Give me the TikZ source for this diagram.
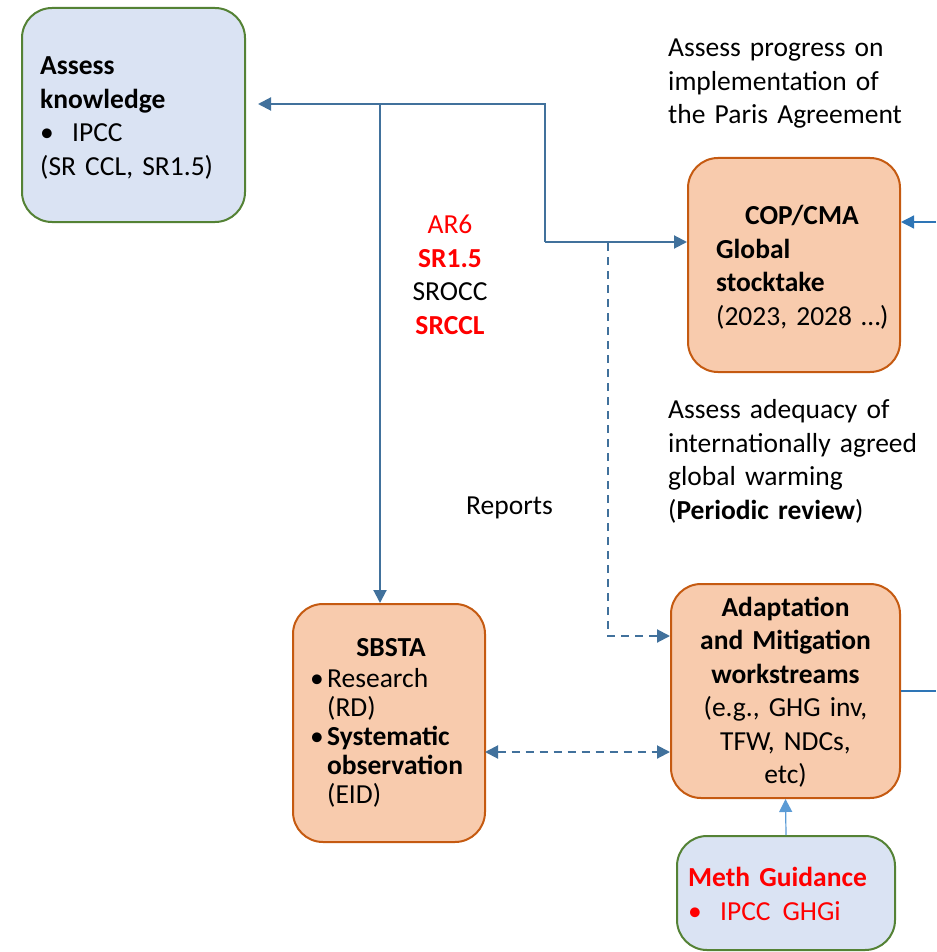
\documentclass[tikz,border=0pt]{standalone}
\usepackage{fontspec}
\setmainfont{Carlito}
\usetikzlibrary{arrows.meta}
\definecolor{flowblue}{RGB}{65,113,156}
\definecolor{lightflow}{RGB}{91,155,213}
\definecolor{sideflow}{RGB}{46,117,182}
\definecolor{boxgreen}{RGB}{84,130,53}
\definecolor{boxblue}{RGB}{218,227,243}
\definecolor{boxorange}{RGB}{197,90,17}
\definecolor{boxpeach}{RGB}{248,203,173}
\definecolor{labelred}{RGB}{255,0,0}

\begin{document}
\begin{tikzpicture}[x=1pt, y=-1pt, >={Triangle[length=13pt,width=13pt]},
    knowbox/.style={draw=boxgreen, fill=boxblue, line width=2pt, rounded corners=30pt},
    procbox/.style={draw=boxorange, fill=boxpeach, line width=2pt, rounded corners=30pt},
    txt/.style={inner sep=0pt, font=\fontsize{27.5}{33.5}\selectfont, text width=270pt, align=left, anchor=base west},
    ctxt/.style={inner sep=0pt, font=\fontsize{27.5}{33.5}\selectfont, text width=240pt, align=center, anchor=base},
    flow/.style={draw=flowblue, line width=2pt},
    dflow/.style={flow, dash pattern=on 8pt off 6pt}]
    \useasboundingbox (0,0) rectangle (936,952);
    % boxes
    \node [knowbox, minimum width=223pt, minimum height=214pt] (know) at (133.5, 115) {};
    \node [procbox, minimum width=212pt, minimum height=214pt] (cop) at (794, 265) {};
    \node [procbox, minimum width=192pt, minimum height=238pt] (sbsta) at (389, 723) {};
    \node [procbox, minimum width=229pt, minimum height=214pt] (work) at (785.5, 691) {};
    \node [knowbox, minimum width=218pt, minimum height=114pt] (meth) at (786, 893) {};
    % box texts
    \node [txt] (knowtxt) at (40, 75) {\textbf{Assess}\\\textbf{knowledge}\\\makebox[32pt][l]{•}IPCC\\(SR CCL, SR1.5)};
    \node [txt] (coptxt) at (716, 224.5) {\textbf{\hspace*{29pt}COP/CMA}\\\textbf{Global}\\\textbf{stocktake}\\(2023, 2028 …)};
    \node [ctxt] (sbstahead) at (391, 656.5) {\textbf{SBSTA}};
    \node [txt, font=\fontsize{27.5}{29}\selectfont] (sbstatxt) at (310, 687) {\makebox[17pt][l]{•}Research\\\hspace*{17pt}(RD)\\\makebox[17pt][l]{•}\textbf{Systematic}\\\hspace*{17pt}\textbf{observation}\\\hspace*{17pt}(EID)};
    \node [ctxt] (worktxt) at (785.5, 616) {\textbf{Adaptation}\\\textbf{and Mitigation}\\\textbf{workstreams}\\(e.g., GHG inv,\\TFW, NDCs,\\etc)};
    \node [txt, text=labelred] (methtxt) at (688, 886.5) {\textbf{Meth Guidance}\\\makebox[32pt][l]{•}IPCC\hspace{12pt}GHGi};
    % free texts
    \node [txt] (progress) at (668, 57) {Assess progress on\\implementation of\\the Paris Agreement};
    \node [ctxt] (reports) at (450, 233.5) {\textcolor{labelred}{AR6}\\\textcolor{labelred}{\textbf{SR1.5}}\\SROCC\\\textcolor{labelred}{\textbf{SRCCL}}};
    \node [txt] (adequacy) at (668, 418.5) {Assess adequacy of\\internationally agreed\\global warming\\(\textbf{Periodic review})};
    \node [ctxt] (replabel) at (509.5, 514) {Reports};
    % connectors
    \coordinate (hub) at (545, 104);
    \coordinate (knee) at (545, 242);
    \coordinate (tap) at (380, 104);
    \coordinate (knowin) at (258, 104);
    \draw [flow, ->] (knee) -- (hub) -- (knowin);
    \draw [flow, ->] (knee) -- (knee -| cop.west);
    \draw [flow, ->] (tap) -- (tap |- sbsta.north);
    % dashed links
    \coordinate (dtop) at (608, 243);
    \coordinate (dbend) at (608, 636);
    \draw [dflow, ->] (dtop) -- (dbend) -- (dbend -| work.west);
    \coordinate (obs) at (485, 752);
    \draw [dflow, <->] (obs) -- (obs -| work.west);
    % side links
    \coordinate (fromright) at (936, 222);
    \coordinate (toright) at (936, 691);
    \draw [draw=sideflow, line width=1.3pt, ->] (fromright) -- (fromright -| cop.east);
    \draw [draw=sideflow, line width=1.5pt] (work.east) -- (toright);
    \draw [draw=lightflow, line width=1.2pt, ->] (meth.north) -- (work.south);
\end{tikzpicture}
\end{document}
